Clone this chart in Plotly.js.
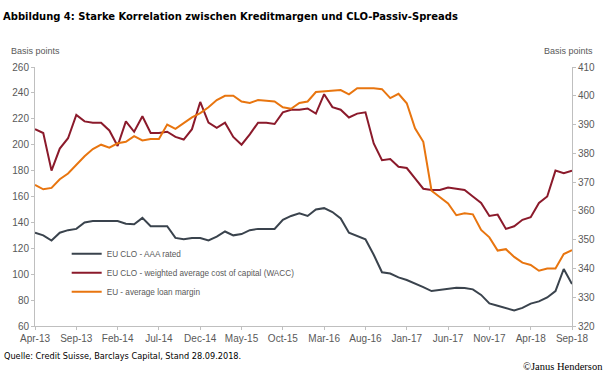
<!DOCTYPE html>
<html>
<head>
<meta charset="utf-8">
<script src="https://cdn.plot.ly/plotly-3.0.1.min.js"></script>
<style>html,body{margin:0;padding:0;background:#fff;}#chart{width:609px;height:374px;}</style>
</head>
<body>
<div id="chart"></div>
<script>
// Monthly observations Apr-13 .. Sep-18
const monthNames = ["Jan","Feb","Mar","Apr","May","Jun","Jul","Aug","Sep","Oct","Nov","Dec"];
const months = [];
for (let y = 2013; y <= 2018; y++) {
  for (let m = 0; m < 12; m++) {
    if ((y === 2013 && m < 3) || (y === 2018 && m > 8)) continue;
    months.push(monthNames[m] + "-" + String(y).slice(2));
  }
}
const tickLabels = ["Apr-13","Sep-13","Feb-14","Jul-14","Dec-14","May-15","Oct-15","Mar-16","Aug-16","Jan-17","Jun-17","Nov-17","Apr-18","Sep-18"];

// EU CLO - AAA rated (left axis, bp)
const aaa = [132,130,126,132,134,135,140,141,141,141,141,139,138.5,143.5,137,137,137,
  128,127,128,128,126,129,133,130,131,134,135,135,135,
  142,145,147,145,150,151,148,143,132,129.5,127,115,101.5,100.5,97.5,95.5,93,90,87,88,89,89.5,89.3,88.3,84,77.5,75.7,73.7,72,74,77.3,79,82,87,104,92.4];
// EU CLO - WACC (left axis, bp)
const wacc = [212,209,180,197,205,223,218,217,217,211,199,218,210,222,209,209,210,206,204,212,233,217,213,217,206,200,208,217,217,216,225,227,227,228,224,239,229,227,221,224,225,201,188,189,183,182,174,166,165,165,167,166,165,160,155,145,146,135,137,142,144,155,160,180,178,180];
// EU - average loan margin (right axis, bp)
const loanMargin = [369,367.5,368,371,373,376,379,381.5,383,382,383.5,384,386,384.5,385,385,390,388.5,390.5,392.5,394,396,398.5,400,400,398,397.5,398.5,398.3,398,396,395.5,397.5,398,401.3,401.6,401.7,402,400.5,402.6,402.6,402.6,402.3,399.2,400.7,397.4,388.7,384,367,364.7,362.6,358.5,359.2,358.8,353.4,350.8,346.2,346.7,344,342,341.2,339.2,340,340,345,346.4];

const names = ["EU CLO - AAA rated","EU CLO - weighted average cost of capital (WACC)","EU - average loan margin"];
const colors = ["#3a434d","#8b1a2b","#e8750f"];

const traces = [
  {x: months, y: aaa, name: names[0], type: "scatter", mode: "lines", line: {color: colors[0], width: 2}},
  {x: months, y: wacc, name: names[1], type: "scatter", mode: "lines", line: {color: colors[1], width: 2}},
  {x: months, y: loanMargin, name: names[2], type: "scatter", mode: "lines", yaxis: "y2", line: {color: colors[2], width: 2}}
];

const tickFont = {family: "Liberation Sans, Arial, sans-serif", size: 10, color: "#595959"};
const axisLine = "#bfbfbf";

const layout = {
  width: 609, height: 374,
  margin: {l: 35, r: 37, t: 67, b: 48},
  paper_bgcolor: "#fff", plot_bgcolor: "#fff",
  showlegend: true,
  legend: {x: 0.059, y: 0.335, xanchor: "left", yanchor: "top", bgcolor: "rgba(0,0,0,0)",
           font: {family: "Liberation Sans, Arial, sans-serif", size: 8.2, color: "#595959"}, traceorder: "normal"},
  title: {text: "<b>Abbildung 4: Starke Korrelation zwischen Kreditmargen und CLO-Passiv-Spreads</b>",
          x: 0.005, xref: "container", xanchor: "left", y: 0.958, yref: "container", yanchor: "middle",
          font: {family: "DejaVu Sans Condensed, sans-serif", size: 11.1, color: "#000"}},
  xaxis: {type: "category", range: [0, months.length - 1], tickmode: "array", tickvals: tickLabels, ticktext: tickLabels,
          showgrid: false, zeroline: false, showline: true, linecolor: axisLine, linewidth: 1,
          ticks: "outside", ticklen: 3, tickcolor: axisLine, tickfont: tickFont, tickangle: 0, fixedrange: true},
  yaxis: {range: [60, 260], dtick: 20, tick0: 60, showgrid: false, zeroline: false, showline: true, linecolor: axisLine,
          ticks: "outside", ticklen: 3, tickcolor: axisLine, tickfont: tickFont},
  yaxis2: {range: [320, 410], dtick: 10, tick0: 320, overlaying: "y", side: "right", showgrid: false, zeroline: false,
           showline: true, linecolor: axisLine, ticks: "outside", ticklen: 3, tickcolor: axisLine, tickfont: tickFont},
  annotations: [
    {text: "Basis points", xref: "paper", yref: "paper", x: -0.048, y: 1.06, xanchor: "left", yanchor: "middle", showarrow: false,
     font: {family: "Liberation Sans, Arial, sans-serif", size: 9, color: "#595959"}},
    {text: "Basis points", xref: "paper", yref: "paper", x: 1.043, y: 1.06, xanchor: "right", yanchor: "middle", showarrow: false,
     font: {family: "Liberation Sans, Arial, sans-serif", size: 9, color: "#595959"}},
    {text: "Quelle: Credit Suisse, Barclays Capital, Stand 28.09.2018.", xref: "paper", yref: "paper", x: -0.062, y: -0.115,
     xanchor: "left", yanchor: "middle", showarrow: false,
     font: {family: "DejaVu Sans Condensed, sans-serif", size: 9.1, color: "#000"}},
    {text: "©Janus Henderson", xref: "paper", yref: "paper", x: 1.062, y: -0.155, xanchor: "right", yanchor: "middle", showarrow: false,
     font: {family: "Liberation Serif, Times New Roman, serif", size: 10.5, color: "#000"}}
  ]
};

Plotly.newPlot("chart", traces, layout, {displayModeBar: false, staticPlot: true});
</script>
</body>
</html>
